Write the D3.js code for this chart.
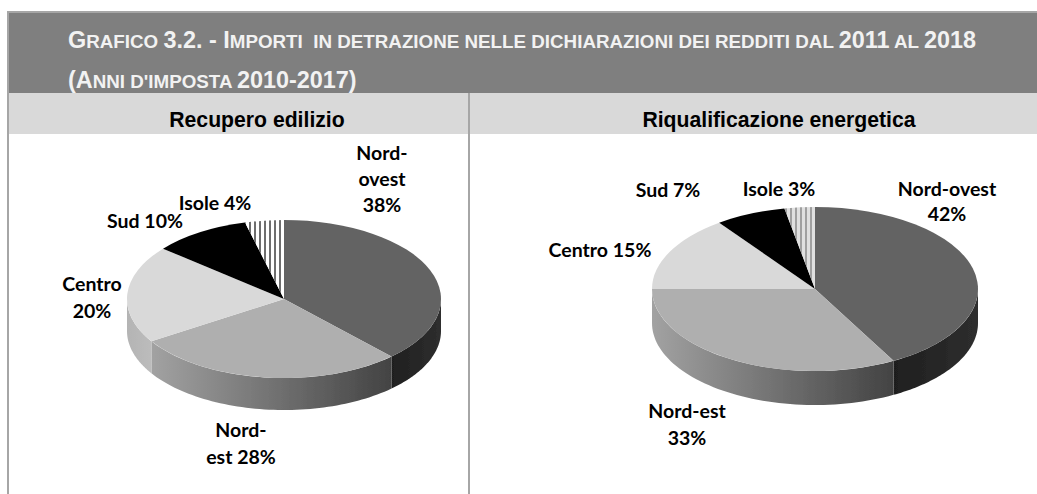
<!DOCTYPE html>
<html lang="it">
<head>
<meta charset="utf-8">
<title>Grafico 3.2</title>
<script src="https://cdn.jsdelivr.net/npm/d3@7"></script>
<style>
  body { margin: 0; background: #fff; }
  svg { display: block; }
  .head { font-family: "Liberation Sans", Arial, sans-serif; font-weight: bold; fill: #f2f2f2; white-space: pre; }
  .sub { font-family: "Liberation Sans", Arial, sans-serif; font-weight: bold; font-size: 21.2px; fill: #000; text-anchor: middle; }
  .lab { font-family: Lato, "Open Sans", sans-serif; font-weight: bold; font-size: 19.5px; fill: #000; text-anchor: middle; }
</style>
</head>
<body>
<div id="chart"></div>
<script>
// data
const regions = ['Nord-ovest', 'Nord-est', 'Centro', 'Sud', 'Isole']
const recupero = [38, 28, 20, 10, 4]
const riqualificazione = [42, 33, 15, 7, 3]

const recuperoLabels = [['Nord-', 'ovest', '38%'], ['Nord-', 'est 28%'], ['Centro', '20%'], ['Sud 10%'], ['Isole 4%']]
const riqualificazioneLabels = [['Nord-ovest', '42%'], ['Nord-est', '33%'], ['Centro 15%'], ['Sud 7%'], ['Isole 3%']]

// title runs: [text, is it a capital/digit run]
const titleLine1 = [['G', 1], ['RAFICO ', 0], ['3.2. - I', 1], ['MPORTI  IN DETRAZIONE NELLE DICHIARAZIONI DEI REDDITI DAL ', 0], ['2011', 1], [' AL ', 0], ['2018', 1]]
const titleLine2 = [['(A', 1], ['NNI D\'IMPOSTA ', 0], ['2010-2017)', 1]]

const width = 1037
const height = 494

const svg = d3.select('#chart').append('svg').attr('width', width).attr('height', height)
const defs = svg.append('defs')

defs.append('filter').attr('id', 'soft')
  .attr('x', '-5%').attr('y', '-5%').attr('width', '110%').attr('height', '110%')
  .append('feGaussianBlur').attr('stdDeviation', 0.55)

const addGradient = (id, from, to) => {
  const g = defs.append('linearGradient').attr('id', id)
  g.append('stop').attr('offset', '0%').attr('stop-color', from)
  g.append('stop').attr('offset', '100%').attr('stop-color', to)
}
addGradient('sideOvest', '#1f1f1f', '#2e2e2e')
addGradient('sideEst', '#a2a2a2', '#434343')
addGradient('sideCentro', '#b4b4b4', '#bcbcbc')

const addStripes = (id, back, line) => {
  const p = defs.append('pattern').attr('id', id)
    .attr('patternUnits', 'userSpaceOnUse').attr('width', 5).attr('height', 5)
  p.append('rect').attr('width', 5).attr('height', 5).attr('fill', back)
  p.append('rect').attr('width', 2).attr('height', 5).attr('fill', line)
}
addStripes('stripesA', '#ffffff', '#6e6e6e')
addStripes('stripesB', '#e0e0e0', '#a0a0a0')

// heading text overflows the band a little at the bottom, the strip below covers it
const drawTitle = (runs, y) => {
  const t = svg.append('text').attr('class', 'head').attr('x', 68).attr('y', y)
  t.selectAll('tspan').data(runs).join('tspan')
    .attr('font-size', d => d[1] ? 23.4 : 18.8)
    .text(d => d[0])
}

// frame
svg.append('rect').attr('x', 7).attr('y', 11).attr('width', width - 7).attr('height', 82).attr('fill', '#a6a6a6')
svg.append('rect').attr('x', 9).attr('y', 13).attr('width', width - 9).attr('height', 80).attr('fill', '#7f7f7f')
drawTitle(titleLine1, 48)
drawTitle(titleLine2, 88)
svg.append('rect').attr('x', 9).attr('y', 93).attr('width', width - 9).attr('height', 41).attr('fill', '#d9d9d9')
svg.append('rect').attr('x', 7).attr('y', 93).attr('width', 2).attr('height', height - 93).attr('fill', '#a6a6a6')
svg.append('rect').attr('x', 468).attr('y', 93).attr('width', 2).attr('height', height - 93).attr('fill', '#a6a6a6')

svg.append('text').attr('class', 'sub').attr('x', 257).attr('y', 127).text('Recupero edilizio')
svg.append('text').attr('class', 'sub').attr('x', 779).attr('y', 127).text('Riqualificazione energetica')

const topFills = { Nord_ovest: '#636363', Nord_est: '#afafaf', Centro: '#d9d9d9', Sud: '#000000' }
const sideFills = ['url(#sideOvest)', 'url(#sideEst)', 'url(#sideCentro)', '#111', '#888']
const topFill = (i, stripes) => [topFills.Nord_ovest, topFills.Nord_est, topFills.Centro, topFills.Sud, `url(#${stripes})`][i]

const halfTurn = Math.PI

function drawPie(values, labels, o) {
  const slices = d3.pie().sort(null).startAngle(0).endAngle(2 * Math.PI)(values)
  const g = svg.append('g').attr('transform', `translate(${o.cx},${o.cy})`).attr('filter', 'url(#soft)')

  // rim: only the part of each slice facing the viewer (right to left along the front)
  const rim = d3.area()
    .x(a => o.rx * Math.sin(a))
    .y0(a => -o.ry * Math.cos(a))
    .y1(a => -o.ry * Math.cos(a) + o.depth)
  slices.forEach((s, i) => {
    const a0 = Math.max(s.startAngle, halfTurn / 2)
    const a1 = Math.min(s.endAngle, halfTurn * 1.5)
    if (a1 <= a0) return
    g.append('path')
      .attr('d', rim(d3.range(0, 61).map(k => a0 + (a1 - a0) * k / 60)))
      .attr('fill', sideFills[i])
  })

  // the slice faces are a plain pie squashed to an ellipse
  const arc = d3.arc().innerRadius(0).outerRadius(o.rx)
  g.append('g').attr('transform', `scale(1,${o.ry / o.rx})`)
    .selectAll('path').data(slices).join('path')
    .attr('d', arc)
    .attr('fill', (d, i) => topFill(i, o.stripes))

  // labels
  labels.forEach((lines, i) => {
    const pos = o.labelPos[i]
    lines.forEach((line, k) => {
      svg.append('text').attr('class', 'lab')
        .attr('x', pos.x).attr('y', pos.y + k * o.lineGap[i])
        .text(line)
    })
  })
}

drawPie(recupero, recuperoLabels, {
  cx: 284, cy: 299, rx: 157, ry: 79, depth: 32, stripes: 'stripesA',
  labelPos: [{ x: 382, y: 160 }, { x: 241, y: 437 }, { x: 92, y: 291 }, { x: 145, y: 228 }, { x: 215, y: 210 }],
  lineGap: [26, 27, 27, 0, 0]
})
drawPie(riqualificazione, riqualificazioneLabels, {
  cx: 815, cy: 289, rx: 163, ry: 82, depth: 34, stripes: 'stripesB',
  labelPos: [{ x: 947, y: 196 }, { x: 687, y: 418 }, { x: 600, y: 257 }, { x: 668, y: 197 }, { x: 779, y: 196 }],
  lineGap: [25, 27, 0, 0, 0]
})
</script>
</body>
</html>
